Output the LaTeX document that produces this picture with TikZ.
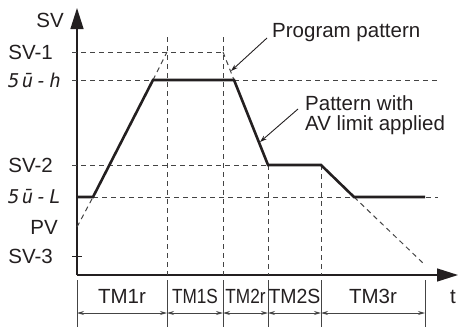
\documentclass[tikz,border=0pt]{standalone}
\usepackage{fontspec}
\setmainfont{Liberation Sans}
\newfontfamily\segfont{DejaVu Sans Mono}[LetterSpace=12]
\usetikzlibrary{calc,arrows.meta,positioning}
\definecolor{inkx}{HTML}{231F20}
\definecolor{grayx}{HTML}{444444}
\tikzset{
  dsh/.style={grayx,line width=1pt,dash pattern=on 5pt off 4pt},
  pat/.style={inkx,line width=2.6pt,line join=miter},
  ax/.style={inkx,line width=1.4pt,-{Triangle[length=21pt,width=13pt]}},
  ldr/.style={inkx,line width=0.9pt,-{Stealth[length=7pt,width=4.5pt]}},
  dim/.style={grayx,line width=0.9pt,{Stealth[length=7pt,width=4pt]}-{Stealth[length=7pt,width=4pt]}},
  ext/.style={grayx,line width=0.9pt},
  lbl/.style={inkx,inner sep=0pt,font=\fontsize{20.5}{20}\selectfont},
  seg/.style={lbl,font=\fontsize{19}{20}\segfont\itshape}
}
\begin{document}
\begin{tikzpicture}[x=1pt,y=-1pt]
\useasboundingbox (0,0) rectangle (460,327);
% axes
\coordinate (O) at (77,275);
\draw[ax] (O) -- (77,8);
\draw[ax] (O) -- (458,275);
\draw[inkx,line width=0.9pt] (72,256) -- (82,256);
% grid lines
\draw[dsh] (72,52) -- (223,52);
\draw[dsh] (72,80) -- (437,80);
\draw[dsh] (72,165) -- (268,165);
\draw[dsh] (93,197) -- (438,197);
\draw[dsh] (167,37) -- (167,275);
\draw[dsh] (223,37) -- (223,275);
\draw[dsh] (268,165) -- (268,275);
\draw[dsh] (321,165) -- (321,275);
% program pattern
\draw[dsh] (77,227) -- (93,197);
\draw[dsh] (153,80) -- (167,52);
\draw[dsh] (223,52) -- (234,80);
\draw[dsh] (354,197) -- (425,265);
% pattern with AV limit
\draw[pat] (77,197) -- (93,197) -- (153,80) -- (234,80) -- (268,165)
  -- (321,165) -- (354,197) -- (425,197);
% axis labels
\node[lbl] (sv) at (50,20) {SV};
\node[lbl,anchor=east] (sv1) at (53,52) {SV-1};
\node[seg,anchor=west] (svh) at (8,80) {5ū-h};
\node[lbl,anchor=east] (sv2) at (53,165) {SV-2};
\node[seg,anchor=west] (svl) at (8,197) {5ū-L};
\node[lbl,anchor=east] (pv) at (58,227) {PV};
\node[lbl,anchor=east] (sv3) at (53,256) {SV-3};
\node[lbl] (t) at (453,297) {t};
% callouts
\node[lbl,anchor=west] (prog) at (272,33) {Program pattern};
\node[lbl,anchor=west,align=left] (avlim) at (305,115) {Pattern with\\AV limit applied};
\coordinate (progtip) at (231,71);
\coordinate (avtip) at (260,142);
\draw[ldr] ($(prog.west)+(-5,5)$) -- (progtip);
\draw[ldr] ($(avlim.west)+(-7,-6)$) -- (avtip);
% time segments
\foreach \x in {77,167,223,268,321,425}{\draw[ext] (\x,280) -- (\x,327);}
\foreach \a/\b/\nm/\txt/\sc in {77/167/tmar/TM1r/1,167/223/tmas/TM1S/0.84,223/268/tmbr/TM2r/0.84,268/321/tmbs/TM2S/0.95,321/425/tmcr/TM3r/1}{
  \draw[dim] (\a,313) -- (\b,313);
  \node[lbl] (\nm) at ({(\a+\b)/2},296) {\scalebox{\sc}[1]{\txt}};
}
\end{tikzpicture}
\end{document}
